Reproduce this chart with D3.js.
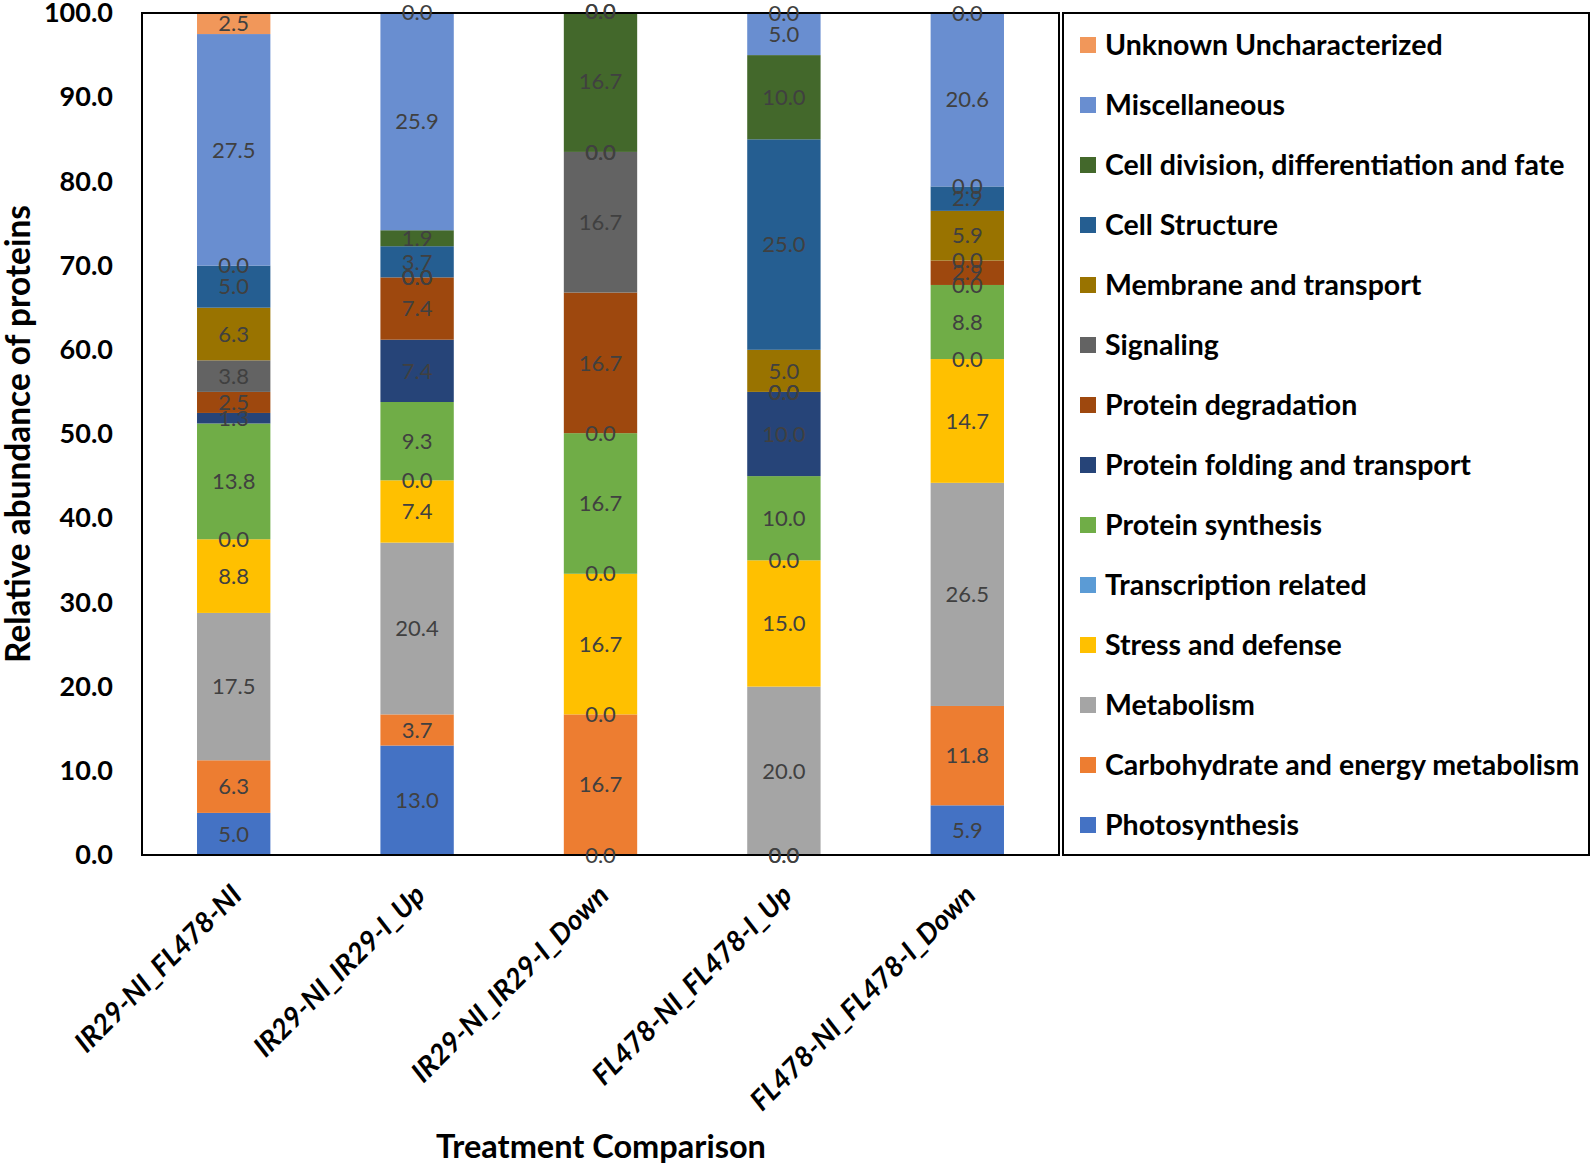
<!DOCTYPE html>
<html lang="en">
<head>
<meta charset="utf-8">
<title>Relative abundance of proteins</title>
<style>
  body { margin: 0; background: #fff; }
  svg { display: block; }
  text { font-family: Lato, "Open Sans", sans-serif; }
</style>
</head>
<body>
<script src="https://cdn.jsdelivr.net/npm/d3@7"></script>
<script>

// comparisons on the x axis
var comparisons = ["IR29-NI_FL478-NI", "IR29-NI_IR29-I_Up", "IR29-NI_IR29-I_Down",
                   "FL478-NI_FL478-I_Up", "FL478-NI_FL478-I_Down"];

// functional categories, stacking order bottom -> top
var categories = ["Photosynthesis", "Carbohydrate and energy metabolism", "Metabolism",
                  "Stress and defense", "Transcription related", "Protein synthesis",
                  "Protein folding and transport", "Protein degradation", "Signaling",
                  "Membrane and transport", "Cell Structure",
                  "Cell division, differentiation and fate", "Miscellaneous",
                  "Unknown Uncharacterized"];

var colors = ["#4472c4", "#ed7d31", "#a5a5a5", "#ffc000", "#5b9bd5", "#70ad47",
              "#264478", "#9e480e", "#636363", "#997300", "#255e91", "#43682b",
              "#698ed0", "#f1975a"];

// % of proteins per comparison
var photosynthesis  = [5.0, 13.0, 0.0, 0.0, 5.9];
var carbohydrate    = [6.25, 3.7, 16.7, 0.0, 11.8];
var metabolism      = [17.5, 20.4, 0.0, 20.0, 26.5];
var stress          = [8.75, 7.4, 16.7, 15.0, 14.7];
var transcription   = [0.0, 0.0, 0.0, 0.0, 0.0];
var synthesis       = [13.75, 9.3, 16.7, 10.0, 8.8];
var folding         = [1.25, 7.4, 0.0, 10.0, 0.0];
var degradation     = [2.5, 7.4, 16.7, 0.0, 2.9];
var signaling       = [3.75, 0.0, 16.7, 0.0, 0.0];
var membrane        = [6.25, 0.0, 0.0, 5.0, 5.9];
var cellStructure   = [5.0, 3.7, 0.0, 25.0, 2.9];
var cellDivision    = [0.0, 1.9, 16.7, 10.0, 0.0];
var miscellaneous   = [27.5, 25.9, 0.0, 5.0, 20.6];
var unknown         = [2.5, 0.0, 0.0, 0.0, 0.0];

var series = [photosynthesis, carbohydrate, metabolism, stress, transcription, synthesis,
              folding, degradation, signaling, membrane, cellStructure, cellDivision,
              miscellaneous, unknown];

var yTicks = [0, 10, 20, 30, 40, 50, 60, 70, 80, 90, 100];

// build rows for d3.stack
var rows = comparisons.map(function(c, i) {
    var r = { comparison: c };
    categories.forEach(function(k, j) { r[k] = series[j][i]; });
    return r;
});

var W = 1594, H = 1167;
var plot = { left: 142, right: 1059, top: 13, bottom: 855 };

var svg = d3.select("body").append("svg")
    .attr("width", W)
    .attr("height", H);

var x = d3.scaleBand()
    .domain(comparisons)
    .range([plot.left, plot.right])
    .paddingInner(0.6)
    .paddingOuter(0.3);

var y = d3.scaleLinear()
    .domain([0, 100])
    .range([plot.bottom, plot.top]);

var stacked = d3.stack().keys(categories)(rows);

svg.append("defs").append("clipPath")
    .attr("id", "clip")
  .append("rect")
    .attr("x", plot.left)
    .attr("y", plot.top)
    .attr("width", plot.right - plot.left)
    .attr("height", plot.bottom - plot.top);

var bars = svg.append("g").attr("clip-path", "url(#clip)");

bars.selectAll("g.layer")
    .data(stacked)
  .enter().append("g")
    .attr("class", "layer")
    .attr("fill", function(d, i) { return colors[i]; })
  .selectAll("rect")
    .data(function(d) { return d; })
  .enter().append("rect")
    .attr("x", function(d) { return x(d.data.comparison); })
    .attr("width", x.bandwidth())
    .attr("y", function(d) { return y(d[1]); })
    .attr("height", function(d) { return y(d[0]) - y(d[1]); });

// frame of the plot area
svg.append("rect")
    .attr("x", plot.left)
    .attr("y", plot.top)
    .attr("width", plot.right - plot.left)
    .attr("height", plot.bottom - plot.top)
    .attr("fill", "none")
    .attr("stroke", "#000")
    .attr("stroke-width", 2);

// data labels, centred in every segment (zeros sit on the boundary)
var fmt = d3.format(".1f");
var labels = svg.append("g");
stacked.forEach(function(layer, i) {
    layer.forEach(function(d) {
        labels.append("text")
            .attr("x", x(d.data.comparison) + x.bandwidth() / 2)
            .attr("y", y((d[0] + d[1]) / 2))
            .attr("dy", "0.35em")
            .attr("text-anchor", "middle")
            .attr("font-size", 22)
            .attr("fill", "#404040")
            .text(fmt(series[i][comparisons.indexOf(d.data.comparison)]));
    });
});

// y axis
var yAxis = d3.axisLeft(y)
    .tickValues(yTicks)
    .tickSize(0)
    .tickPadding(29)
    .tickFormat(d3.format(".1f"));

var gy = svg.append("g")
    .attr("transform", "translate(" + plot.left + ",0)")
    .call(yAxis);
gy.select(".domain").remove();
gy.selectAll("text")
    .attr("font-family", "Lato, sans-serif")
    .attr("font-size", 27)
    .attr("font-weight", "bold")
    .attr("fill", "#000");

svg.append("text")
    .attr("transform", "translate(30," + ((plot.top + plot.bottom) / 2) + ") rotate(-90)")
    .attr("text-anchor", "middle")
    .attr("font-size", 33.4)
    .attr("font-weight", "bold")
    .text("Relative abundance of proteins");

// x axis labels, rotated
var xAxis = d3.axisBottom(x).tickSize(0).tickPadding(0);
var gx = svg.append("g")
    .attr("transform", "translate(0," + plot.bottom + ")")
    .call(xAxis);
gx.select(".domain").remove();
gx.selectAll("text")
    .attr("font-family", "Lato, sans-serif")
    .attr("font-size", 28)
    .attr("font-weight", "bold")
    .attr("font-style", "italic")
    .attr("fill", "#000")
    .attr("text-anchor", "end")
    .attr("dy", "0.35em")
    .attr("transform", "translate(3,35) rotate(-45)");

svg.append("text")
    .attr("x", 601)
    .attr("y", 1158)
    .attr("text-anchor", "middle")
    .attr("font-size", 32.5)
    .attr("font-weight", "bold")
    .text("Treatment Comparison");

// legend
var leg = { left: 1063, right: 1589, top: 13, bottom: 855 };
svg.append("rect")
    .attr("x", leg.left)
    .attr("y", leg.top)
    .attr("width", leg.right - leg.left)
    .attr("height", leg.bottom - leg.top)
    .attr("fill", "none")
    .attr("stroke", "#000")
    .attr("stroke-width", 2);

var legendOrder = categories.slice().reverse();
var ly = d3.scalePoint()
    .domain(legendOrder)
    .range([45, 825]);

var items = svg.append("g").selectAll("g")
    .data(legendOrder)
  .enter().append("g")
    .attr("transform", function(d) { return "translate(1080," + ly(d) + ")"; });

items.append("rect")
    .attr("x", 0)
    .attr("y", -8)
    .attr("width", 16)
    .attr("height", 16)
    .attr("fill", function(d) { return colors[categories.indexOf(d)]; });

items.append("text")
    .attr("x", 25)
    .attr("dy", "0.35em")
    .attr("font-size", 28.5)
    .attr("font-weight", "bold")
    .text(function(d) { return d; });

</script>
</body>
</html>
